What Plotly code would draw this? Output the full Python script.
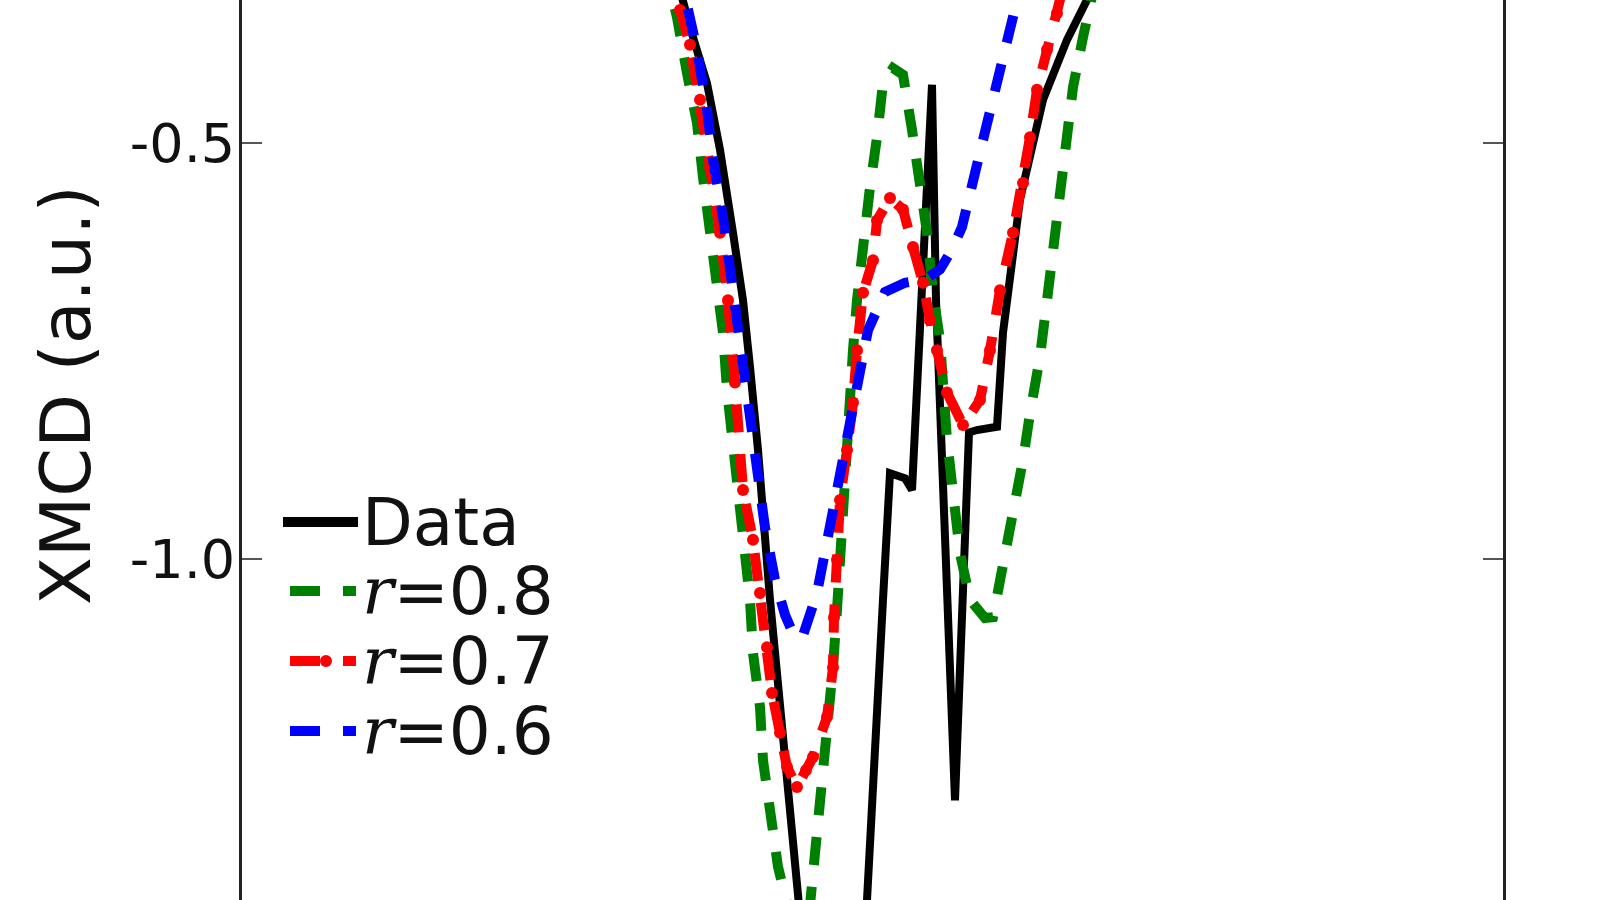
import plotly.graph_objects as go

# ---- data (x: energy, arbitrary units; y: XMCD, a.u.) ----
data_x = [43.0, 44.0, 44.8, 46.5, 47.8, 49.1, 50.1, 50.8, 51.6, 52.8, 53.8, 54.8, 55.8, 56.6, 59.3,
          61.8, 62.5, 63.5, 64.1, 64.8, 66.3, 67.0, 69.0, 69.4, 71.3, 72.7, 73.5, 75.5, 76.1, 77.8,
          80.1, 82.5, 84.5, 85.8]
data_y = [-0.280, -0.328, -0.361, -0.428, -0.508, -0.608, -0.689, -0.769, -0.869, -1.049, -1.169,
          -1.290, -1.410, -1.530, -1.602, -1.530, -1.410, -1.209, -1.049, -0.897, -0.903, -0.917,
          -0.430, -0.689, -1.290, -0.848, -0.845, -0.841, -0.728, -0.568, -0.448, -0.376, -0.328,
          -0.280]

r08_x = [42.1, 43.1, 43.5, 44.5, 45.5, 46.1, 46.8, 47.5, 48.1, 48.5, 49.1, 49.6, 50.1, 50.8, 51.1,
         51.8, 52.1, 52.8, 53.6, 54.8, 55.8, 56.8, 57.6, 58.1, 58.8, 59.1, 59.5, 60.1, 60.6, 61.1,
         61.5, 62.1, 62.8, 63.5, 64.1, 65.1, 66.1, 67.0, 67.8, 68.5, 69.1, 69.8, 70.5, 71.1, 71.8,
         72.8, 74.3, 75.1, 76.1, 77.1, 78.1, 78.8, 79.8, 80.5, 81.1, 81.8, 82.5, 83.1, 84.1, 85.0,
         85.8]
r08_y = [-0.280, -0.328, -0.349, -0.416, -0.476, -0.541, -0.608, -0.668, -0.728, -0.797, -0.861,
         -0.929, -0.989, -1.049, -1.113, -1.178, -1.242, -1.305, -1.370, -1.428, -1.446, -1.416,
         -1.322, -1.262, -1.193, -1.130, -1.061, -0.929, -0.848, -0.749, -0.689, -0.620, -0.553,
         -0.493, -0.428, -0.410, -0.418, -0.484, -0.548, -0.608, -0.680, -0.737, -0.857, -0.929,
         -0.993, -1.049, -1.071, -1.070, -1.010, -0.945, -0.881, -0.825, -0.757, -0.689, -0.625,
         -0.560, -0.500, -0.433, -0.373, -0.328, -0.280]

r07_x = [42.8, 43.8, 44.8, 45.8, 46.8, 47.8, 48.6, 49.3, 50.1, 51.1, 51.8, 52.5, 53.0, 53.8, 54.5,
         55.5, 56.4, 57.1, 58.5, 59.1, 59.2, 59.5, 59.8, 60.5, 61.1, 61.5, 62.1, 63.1, 63.5, 64.8,
         66.1, 67.1, 68.1, 68.8, 69.5, 70.5, 72.1, 73.8, 74.8, 75.8, 77.1, 78.1, 78.8, 79.5, 80.5,
         81.5, 82.3]
r07_y = [-0.280, -0.340, -0.382, -0.448, -0.529, -0.608, -0.689, -0.788, -0.917, -0.977, -1.041,
         -1.106, -1.161, -1.209, -1.250, -1.274, -1.254, -1.238, -1.190, -1.130, -1.070, -1.001,
         -0.929, -0.869, -0.812, -0.749, -0.680, -0.641, -0.593, -0.566, -0.580, -0.625, -0.668,
         -0.713, -0.749, -0.800, -0.839, -0.809, -0.749, -0.677, -0.608, -0.548, -0.493, -0.436,
         -0.388, -0.344, -0.304]

r06_x = [43.5, 44.5, 45.5, 46.5, 47.1, 48.1, 48.8, 49.5, 50.1, 50.8, 51.6, 52.3, 53.3, 54.3, 55.3,
         56.1, 57.5, 58.5, 59.6, 60.5, 61.5, 62.6, 64.3, 66.3, 68.3, 69.8, 71.0, 72.0, 73.3, 74.5,
         75.8, 77.1, 78.0]
r06_y = [-0.280, -0.337, -0.388, -0.460, -0.520, -0.589, -0.649, -0.709, -0.769, -0.839, -0.901,
         -0.962, -1.025, -1.067, -1.095, -1.092, -1.041, -0.977, -0.917, -0.853, -0.788, -0.725,
         -0.679, -0.668, -0.664, -0.652, -0.628, -0.601, -0.536, -0.476, -0.416, -0.352, -0.304]

y_ticks = [-1.0, -0.5]
y_tick_text = ["-1.0", "-0.5"]
legend_labels = ["Data", "r=0.8", "r=0.7", "r=0.6"]

# ---- styling ----
GREEN, RED, BLUE, BLACK = "#008000", "#ff0000", "#0000ff", "#000000"
DASH = "28px,22px"
FONT = "DejaVu Sans"

fig = go.Figure()
fig.add_trace(go.Scatter(x=data_x, y=data_y, mode="lines", name="Data",
                         line=dict(color=BLACK, width=8), showlegend=False))
fig.add_trace(go.Scatter(x=r08_x, y=r08_y, mode="lines", name="r=0.8",
                         line=dict(color=GREEN, width=10, dash=DASH), showlegend=False))
fig.add_trace(go.Scatter(x=r07_x, y=r07_y, mode="lines+markers", name="r=0.7",
                         line=dict(color=RED, width=10, dash=DASH),
                         marker=dict(color=RED, size=12), showlegend=False))
fig.add_trace(go.Scatter(x=r06_x, y=r06_y, mode="lines", name="r=0.6",
                         line=dict(color=BLUE, width=10, dash=DASH), showlegend=False))

W, H = 1600, 900
L, R, T, B = 242, 97, 0, 0
PW, PH = W - L - R, H - T - B


def px(xp):
    return (xp - L) / PW


def py(yp):
    return 1 - (yp - T) / PH


# manual legend (matplotlib-like, no frame)
rows = [522, 591, 661, 731]
colors = [BLACK, GREEN, RED, BLUE]
shapes = []
annotations = []
for i, (yy, c, lab) in enumerate(zip(rows, colors, legend_labels)):
    if i == 0:
        shapes.append(dict(type="line", xref="paper", yref="paper", x0=px(283), x1=px(358),
                           y0=py(yy), y1=py(yy), line=dict(color=c, width=10)))
        text = lab
    else:
        shapes.append(dict(type="line", xref="paper", yref="paper", x0=px(290), x1=px(356),
                           y0=py(yy), y1=py(yy), line=dict(color=c, width=10, dash="30px,23px")))
        text = "<span style=\"font-family:'DejaVu Serif'\"><i>r</i></span>" + lab[1:]
    if i == 2:
        shapes.append(dict(type="circle", xref="paper", yref="paper", x0=px(320), x1=px(332),
                           y0=py(yy - 6), y1=py(yy + 6), fillcolor=c, line=dict(width=0)))
    annotations.append(dict(text=text, xref="paper", yref="paper", x=px(360), y=py(yy),
                            xanchor="left", yanchor="middle", showarrow=False,
                            font=dict(family=FONT, size=66, color="#111")))

annotations.append(dict(text="XMCD (a.u.)", xref="paper", yref="paper", x=px(66), y=py(395),
                        xanchor="center", yanchor="middle", textangle=-90, showarrow=False,
                        font=dict(family=FONT, size=70, color="#111")))

fig.update_layout(
    width=W, height=H,
    margin=dict(l=L, r=R, t=T, b=B, pad=0),
    paper_bgcolor="white", plot_bgcolor="white",
    showlegend=False,
    shapes=shapes,
    annotations=annotations,
    font=dict(family=FONT, color="#111"),
)
fig.update_xaxes(range=[0, 126.1], showline=False, showticklabels=False, ticks="",
                 showgrid=False, zeroline=False)
fig.update_yaxes(range=[-1.4099, -0.3281], tickvals=y_ticks, ticktext=y_tick_text,
                 ticks="inside", ticklen=20, tickwidth=2, tickcolor="#555",
                 ticklabelstandoff=-7,
                 showline=True, linewidth=3, linecolor="#222", mirror="ticks",
                 showgrid=False, zeroline=False,
                 tickfont=dict(family=FONT, size=54, color="#111"))

fig.write_html("out.html", config={"displayModeBar": False},
               post_script="document.body.style.margin='0';document.body.style.overflow='hidden';")
